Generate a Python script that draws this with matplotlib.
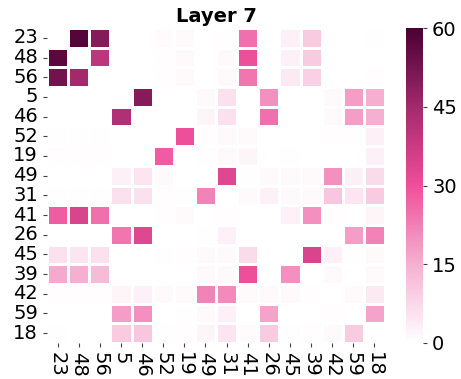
import numpy as np
import matplotlib
matplotlib.use("Agg")
import matplotlib.pyplot as plt
from matplotlib.colors import LinearSegmentedColormap
import seaborn as sns

labels = ["23", "48", "56", "5", "46", "52", "19", "49",
          "31", "41", "26", "45", "39", "42", "59", "18"]

row_23 = [0, 58, 50, 0, 0, 0.8, 1, 0, 0.5, 25, 0, 3, 10, 0, 0, 0.3]
row_48 = [57, 0, 40, 0, 0, 0.5, 1, 0, 1, 30, 0, 3, 10, 0, 0, 0]
row_56 = [53, 45, 0, 0, 0, 0.5, 1, 0, 1, 24, 0, 4, 9, 0, 0, 0.5]
row_5 = [0, 0, 0, 0, 50, 0, 0, 1, 6, 0, 20, 0, 0, 1, 18, 15]
row_46 = [0, 0, 0, 42, 0, 0, 0, 2, 6, 0, 25, 0, 0, 1, 18, 15]
row_52 = [0.3, 0.3, 0.3, 0, 0, 0, 30, 0.5, 1, 1, 0.2, 0.2, 0.2, 0.5, 0.3, 3]
row_19 = [0.5, 0.5, 0.5, 0, 0, 28, 0, 0.3, 1, 2, 0, 0.3, 0, 0, 0, 3]
row_49 = [0, 0, 0, 3, 5, 1, 0, 0, 33, 0.3, 1, 1, 1, 20, 3, 7]
row_31 = [0.3, 0.3, 0.3, 6, 6, 0.5, 0.3, 22, 0, 1, 3, 1, 1, 11, 5, 10]
row_41 = [28, 34, 25, 0, 0, 0.5, 1, 0, 0.5, 0, 0, 3, 20, 0.5, 0, 2]
row_26 = [0, 0, 0, 24, 33, 0, 0, 0.3, 3, 0, 0, 0, 0, 0, 18, 22]
row_45 = [6, 5, 6, 0, 0, 0.3, 0.5, 1, 1, 7, 0, 0, 34, 3, 0.3, 1]
row_39 = [16, 15, 13, 0, 0, 0, 0, 1, 1, 30, 0, 20, 0, 1, 0, 1]
row_42 = [0.5, 0.5, 0.5, 2, 3, 1, 1, 22, 21, 1, 1, 1, 0.5, 0, 1, 4]
row_59 = [0, 0, 0, 18, 20, 0.2, 0.3, 1, 3, 0, 17, 0, 0, 0.5, 0, 17]
row_18 = [0.3, 0, 0, 10, 11, 0.5, 0.5, 2, 5, 0.8, 10, 0.3, 0.5, 1, 10, 0]

values = np.array([row_23, row_48, row_56, row_5, row_46, row_52, row_19, row_49,
                   row_31, row_41, row_26, row_45, row_39, row_42, row_59, row_18])

# white -> hot pink -> deep maroon
pink_cmap = LinearSegmentedColormap.from_list(
    "white_pink_maroon",
    [(0.0, "#ffffff"), (0.25, "#f5b0d1"), (0.5, "#ee4f9a"),
     (0.75, "#a3296c"), (1.0, "#4a0033")])

W, H = 461, 379
fig = plt.figure(figsize=(W / 100, H / 100), dpi=100)
ax = fig.add_axes([47 / W, (H - 343) / H, 338 / W, 315 / H])
cax = fig.add_axes([406 / W, (H - 343) / H, 17 / W, 315 / H])

sns.heatmap(values, ax=ax, cbar_ax=cax, cmap=pink_cmap, vmin=0, vmax=60,
            linewidths=0.8, linecolor="white",
            xticklabels=labels, yticklabels=labels,
            cbar_kws={"ticks": [0, 15, 30, 45, 60]})

ax.set_title("Layer 7", fontsize=14, fontweight="bold", pad=4)
ax.tick_params(axis="both", labelsize=14, length=3, width=0.8, color="#444444")
plt.setp(ax.get_xticklabels(), rotation=-90)
plt.setp(ax.get_yticklabels(), rotation=0)
cax.tick_params(labelsize=14, length=3, width=0.8, color="#444444")

fig.savefig("out.png", dpi=100)
